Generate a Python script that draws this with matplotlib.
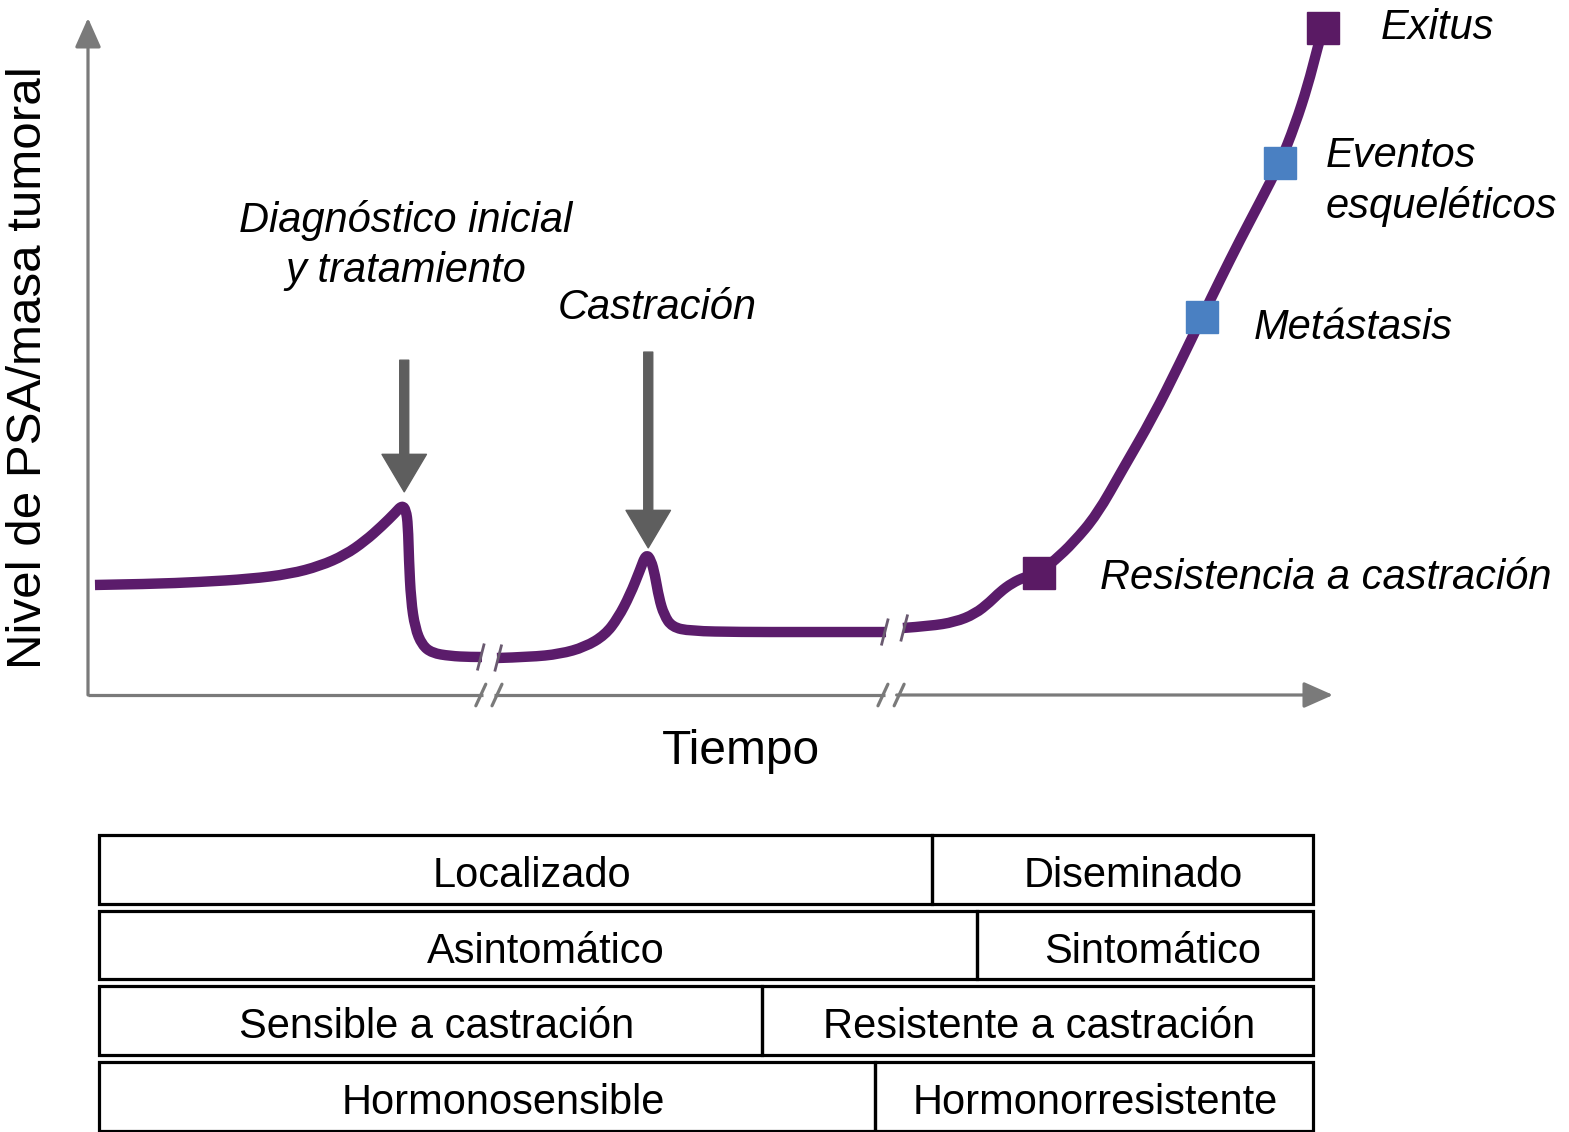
import matplotlib.pyplot as plt
from matplotlib.patches import Rectangle, PathPatch
from matplotlib.path import Path

plt.rcParams['font.family'] = ['Liberation Sans', 'DejaVu Sans']

# PSA curve, in three pieces separated by time breaks (time 0-100, level 0-100)
t_seg1 = [0.56, 4.98, 9.00, 13.01, 16.22, 18.63, 20.64, 22.25, 23.61, 24.66, 25.22,
          25.54, 25.70, 25.78, 25.94, 26.27, 26.83, 27.63, 29.08, 30.68, 31.65]
l_seg1 = [16.30, 16.44, 16.74, 17.19, 17.93, 19.11, 20.74, 22.81, 25.04, 26.96, 28.1,
          27.41, 25.19, 20.00, 14.07, 9.93, 7.41, 6.22, 5.78, 5.63, 5.63]
t_seg2 = [32.85, 35.50, 37.91, 39.92, 41.53, 42.57, 43.53, 44.34, 44.82, 45.22, 45.54,
          45.86, 46.27, 46.91, 48.35, 52.37, 57.19, 61.20, 64.10]
l_seg2 = [5.48, 5.63, 6.07, 7.11, 8.89, 11.41, 14.81, 18.52, 20.9, 20.00, 17.78,
          14.37, 11.85, 10.07, 9.48, 9.33, 9.33, 9.33, 9.33]
t_seg3 = [65.46, 67.63, 69.64, 71.24, 72.45, 73.25, 74.22, 75.26, 76.39, 77.67, 79.12,
          81.04, 83.13, 85.54, 87.71, 89.48, 90.92, 92.53, 94.14, 95.74, 96.95, 97.99,
          98.71, 99.20]
l_seg3 = [9.93, 10.22, 10.81, 12.00, 13.78, 15.26, 16.59, 17.48, 18.07, 20.00, 22.52,
          26.7, 33.5, 41.19, 49.19, 56.00, 61.48, 67.41, 73.04, 78.81, 84.44, 90.37,
          95.56, 98.81]

# milestones on the curve
event_names = ['Resistencia a castración', 'Metástasis', 'Eventos\nesqueléticos', 'Exitus']
event_t = [76.39, 89.48, 95.74, 99.20]
event_l = [18.07, 56.00, 78.81, 98.81]
event_colors = ['#5a1a64', '#4a80c2', '#4a80c2', '#5a1a64']
label_t = [81.3, 93.65, 99.44, 103.8]
label_l = [17.35, 54.4, 76.1, 98.8]

# treatment arrows
arrow_names = ['Diagnóstico inicial\ny tratamiento', 'Castración']
arrow_t = [25.4, 45.0]
arrow_top = [49.6, 50.8]
arrow_tip = [30.1, 21.8]
arrow_label_t = [25.54, 45.7]
arrow_label_l = [66.6, 57.3]

# time axis breaks
axis_breaks = [32.2, 64.5]
curve_breaks = [(31.65, 32.85), (64.10, 65.46)]

# stage table under the chart
table_rows = [('Localizado', 'Diseminado'),
              ('Asintomático', 'Sintomático'),
              ('Sensible a castración', 'Resistente a castración'),
              ('Hormonosensible', 'Hormonorresistente')]
table_split = [67.8, 71.4, 54.1, 63.2]
table_text_t = [(35.66, 83.94), (36.79, 85.54), (28.03, 76.39), (33.33, 80.88)]
table_start, table_end = 0.9, 98.4


def smooth_path(ts, ls):
    # quadratic bezier through the midpoints of the read points
    verts = [(ts[0], ls[0])]
    codes = [Path.MOVETO]
    for i in range(1, len(ts) - 1):
        verts += [(ts[i], ls[i]), ((ts[i] + ts[i + 1]) / 2, (ls[i] + ls[i + 1]) / 2)]
        codes += [Path.CURVE3, Path.CURVE3]
    verts[-1] = (ts[-1], ls[-1])
    return Path(verts, codes)


W, H = 1569, 1132
fig = plt.figure(figsize=(W / 100, H / 100), dpi=100)

ax = fig.add_axes([88 / W, (H - 695) / H, 1245 / W, 675 / H])
ax.set_xlim(0, 100)
ax.set_ylim(0, 100)
ax.axis('off')

purple = '#5b1c6b'
grey_axis = '#7a7a7a'
head = dict(arrowstyle='-|>,head_length=1.8,head_width=0.8', mutation_scale=10,
            color=grey_axis, lw=2.3, shrinkA=0, shrinkB=0)

# axes with arrows
ax.annotate('', xy=(0, 100.3), xytext=(0, 0), arrowprops=head, annotation_clip=False)
gap = 0.45
ax.plot([0, axis_breaks[0] - gap], [0, 0], color=grey_axis, lw=2.3,
        solid_capstyle='butt', clip_on=False)
ax.plot([axis_breaks[0] + gap, axis_breaks[1] - gap], [0, 0], color=grey_axis, lw=2.3,
        solid_capstyle='butt', clip_on=False)
ax.annotate('', xy=(100, 0), xytext=(axis_breaks[1] + gap, 0), arrowprops=head,
            annotation_clip=False)
for b in axis_breaks:
    for side in (-1, 1):
        x0 = b + side * 0.65
        ax.plot([x0 - 0.4, x0 + 0.4], [-1.6, 1.6], color=grey_axis, lw=2.3,
                solid_capstyle='round', clip_on=False)

# the curve
for ts, ls in [(t_seg1, l_seg1), (t_seg2, l_seg2), (t_seg3, l_seg3)]:
    ax.add_patch(PathPatch(smooth_path(ts, ls), fill=False, edgecolor=purple, lw=7.5,
                           capstyle='butt', joinstyle='round', clip_on=False, zorder=3))
for (a, b), la, lb in zip(curve_breaks, [l_seg1[-1], l_seg2[-1]], [l_seg2[0], l_seg3[0]]):
    ax.plot([a - 0.35, a + 0.15], [la - 1.8, la + 1.8], color='#6a5a70', lw=2,
            clip_on=False, zorder=4)
    ax.plot([b - 0.15, b + 0.35], [lb - 1.8, lb + 1.8], color='#6a5a70', lw=2,
            clip_on=False, zorder=4)

# milestone markers and labels
for name, t, l, c, lt, ll in zip(event_names, event_t, event_l, event_colors,
                                  label_t, label_l):
    ax.plot(t, l, marker='s', ms=22.5, color=c, mec=c, clip_on=False, zorder=5)
    ax.text(lt, ll, name, fontsize=30, style='italic', ha='left', va='center',
            linespacing=1.3, clip_on=False)

# treatment arrows
for name, t, top, tip, lt, ll in zip(arrow_names, arrow_t, arrow_top, arrow_tip,
                                     arrow_label_t, arrow_label_l):
    ax.annotate('', xy=(t, tip), xytext=(t, top),
                arrowprops=dict(width=6.5, headwidth=32, headlength=27,
                                color='#5e5e5e', shrink=0))
    ax.text(lt, ll, name, fontsize=30, style='italic', ha='center', va='center',
            linespacing=1.3, multialignment='center')

fig.text(29 / W, 1 - 368 / H, 'Nivel de PSA/masa tumoral', fontsize=35.5,
         rotation=90, ha='center', va='center')
fig.text(741 / W, 1 - 751 / H, 'Tiempo', fontsize=34.5, ha='center', va='center')

# stage table
pitch = 75.7
tab = fig.add_axes([88 / W, (H - 835 - 4 * pitch) / H, 1245 / W, 4 * pitch / H])
tab.set_xlim(0, 100)
tab.set_ylim(4, 0)
tab.axis('off')
row_h = 0.905
for i, ((left, right), s, (tl, tr)) in enumerate(zip(table_rows, table_split, table_text_t)):
    for x0, x1, label, tx in [(table_start, s, left, tl), (s, table_end, right, tr)]:
        tab.add_patch(Rectangle((x0, i), x1 - x0, row_h, fill=False,
                                edgecolor='black', lw=2.3, clip_on=False))
        tab.text(tx, i + row_h / 2 + 0.09, label, fontsize=30,
                 ha='center', va='center')

fig.savefig('out.png', dpi=100)
